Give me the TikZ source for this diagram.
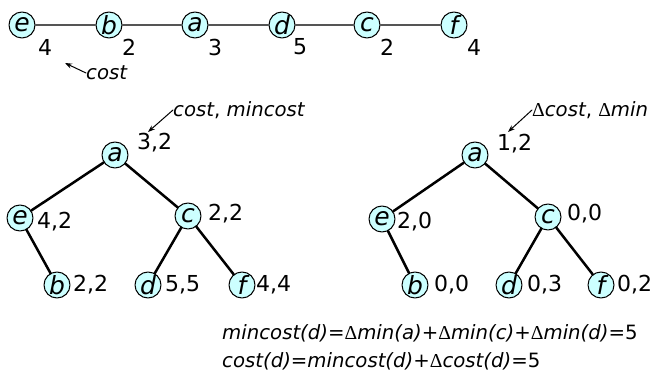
\documentclass[tikz,border=0pt]{standalone}
\usepackage{fontspec}
\setmainfont{DejaVu Sans}
\newfontfamily\deltafont{Liberation Serif}
\newcommand{\dd}{{\deltafont\upshape Δ}}
\usetikzlibrary{arrows.meta}
\definecolor{vtxfill}{HTML}{CCFFFF}
\definecolor{rowline}{HTML}{555555}

\begin{document}
\begin{tikzpicture}[x=1pt,y=-1pt,line cap=round,line join=round,
  vtx/.style={circle,draw,line width=1pt,fill=vtxfill,minimum size=26pt,inner sep=0pt,
    font=\fontsize{25}{25}\selectfont\itshape},
  val/.style={anchor=west,inner sep=0pt,font=\fontsize{22}{22}\selectfont},
  note/.style={anchor=west,inner sep=0pt,font=\fontsize{19.7}{20}\selectfont\itshape},
  >={Stealth[length=7pt,width=5pt]}]
  \useasboundingbox (0,0) rectangle (671,379);

  % path of the top row
  \foreach \n/\x/\lx/\v in {e/22/38/4,b/109/122/2,a/195/208/3,d/282/293/5,c/367/380/2,f/454/467/4} {
    \node[vtx] (r\n) at (\x,25) {\n};
    \node[val] (rv\n) at (\lx,47) {\v};
  }
  \draw[rowline,line width=1.5pt] (re) -- (rb) -- (ra) -- (rd) -- (rc) -- (rf);
  \node[note] (costnote) at (86,73) {cost};
  \coordinate (costtip) at (65,63);
  \draw[->,line width=1pt] (costnote.west) -- (costtip);

  % left tree: cost, mincost
  \foreach \n/\x/\y/\lx/\ly/\v in {a/115/155/137/143/{3,2},e/20/218/37/222/{4,2},
      c/188/216/208/214/{2,2},b/57/285/73/285/{2,2},d/148/285/165/285/{5,5},f/242/285/256/285/{4,4}} {
    \node[vtx] (L\n) at (\x,\y) {\n};
    \node[val] (Lv\n) at (\lx,\ly) {\v};
  }
  \draw[line width=2.5pt] (La) -- (Le) (Le) -- (Lb) (La) -- (Lc) (Lc) -- (Ld) (Lc) -- (Lf);
  \node[note] (minnote) at (173,110) {cost\textup{,} mincost};
  \coordinate (mintip) at (148,132);
  \draw[->,line width=1pt] (minnote.west) -- (mintip);

  % right tree: delta values
  \foreach \n/\x/\y/\lx/\ly/\v in {a/475/155/497/144/{1,2},e/382/219/397/222/{2,0},
      c/548/217/567/214/{0,0},b/415/285/434/285/{0,0},d/509/285/527/285/{0,3},f/601/285/617/285/{0,2}} {
    \node[vtx] (R\n) at (\x,\y) {\n};
    \node[val] (Rv\n) at (\lx,\ly) {\v};
  }
  \draw[line width=2.5pt] (Ra) -- (Re) (Re) -- (Rb) (Ra) -- (Rc) (Rc) -- (Rd) (Rc) -- (Rf);
  \node[note] (dnote) at (532,110) {\dd cost\textup{,} \dd min};
  \coordinate (dtip) at (508,132);
  \draw[->,line width=1pt] (dnote.west) -- (dtip);

  % the two formulas
  \node[note] (eqmin) at (222,333) {mincost(d)\textup{=}\dd min(a)\textup{+}\dd min(c)\textup{+}\dd min(d)\textup{=5}};
  \node[note] (eqcost) at (222,361) {cost(d)\textup{=}mincost(d)\textup{+}\dd cost(d)\textup{=5}};
\end{tikzpicture}
\end{document}
